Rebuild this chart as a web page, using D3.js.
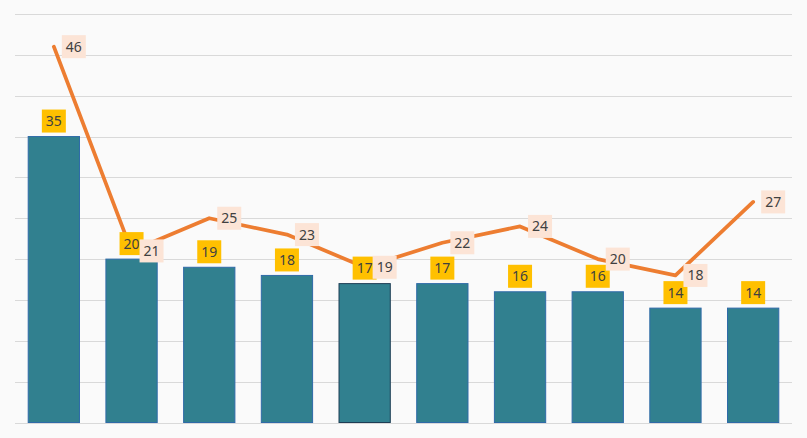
<!DOCTYPE html>
<html>
<head>
<meta charset="utf-8">
<script src="https://cdn.jsdelivr.net/npm/d3@7"></script>
<style>
  body { margin: 0; background: #fafafa; }
  svg { display: block; }
  text { font-family: "Noto Sans", "Open Sans", sans-serif; font-size: 14px; fill: #404040; }
</style>
</head>
<body>
<div id="chart"></div>
<script>
// data
const categories = ["1", "2", "3", "4", "5", "6", "7", "8", "9", "10"];
const barValues = [35, 20, 19, 18, 17, 17, 16, 16, 14, 14];
const lineValues = [46, 21, 25, 23, 19, 22, 24, 20, 18, 27];
const yTicks = [0, 5, 10, 15, 20, 25, 30, 35, 40, 45, 50];

const width = 807, height = 438,
    margin = { top: 14, right: 15, bottom: 15, left: 15 };

const rows = categories.map((c, i) => ({ cat: c, bar: barValues[i], line: lineValues[i], i }));

const svg = d3.select("#chart").append("svg")
    .attr("width", width)
    .attr("height", height);

svg.append("rect").attr("width", width).attr("height", height).attr("fill", "#fafafa");

const x = d3.scaleBand()
    .domain(categories)
    .range([margin.left, width - margin.right])
    .paddingInner(0.34)
    .paddingOuter(0.17);

const y = d3.scaleLinear()
    .domain([0, 50])
    .range([height - margin.bottom - 0.5, margin.top]);

const cx = d => x(d.cat) + x.bandwidth() / 2;

// gridlines
svg.append("g")
    .selectAll("line")
    .data(yTicks)
    .join("line")
    .attr("x1", margin.left)
    .attr("x2", width - margin.right)
    .attr("y1", d => Math.round(y(d)) + 0.5)
    .attr("y2", d => Math.round(y(d)) + 0.5)
    .attr("stroke", "#d9d9d9")
    .attr("stroke-width", 1);

// bars
svg.append("g")
    .selectAll("rect")
    .data(rows)
    .join("rect")
    .attr("x", d => x(d.cat))
    .attr("y", d => y(d.bar))
    .attr("width", x.bandwidth())
    .attr("height", d => y(0) - y(d.bar))
    .attr("fill", "#31808f")
    .attr("stroke", d => d.i === 4 ? "#1e3d55" : "#2f6aa8")
    .attr("stroke-width", 1);

// line
const line = d3.line()
    .x(cx)
    .y(d => y(d.line));

svg.append("path")
    .datum(rows)
    .attr("d", line)
    .attr("fill", "none")
    .attr("stroke", "#ed7d31")
    .attr("stroke-width", 3.75)
    .attr("stroke-linejoin", "round")
    .attr("stroke-linecap", "round");

// bar labels (yellow boxes)
const bw = 24, bh = 23;
const barLab = svg.append("g")
    .selectAll("g")
    .data(rows)
    .join("g")
    .attr("transform", d => `translate(${cx(d)}, ${y(d.bar) - 4 - bh / 2})`);
barLab.append("rect")
    .attr("x", -bw / 2).attr("y", -bh / 2)
    .attr("width", bw).attr("height", bh)
    .attr("fill", "#ffc000");
barLab.append("text")
    .attr("text-anchor", "middle")
    .attr("dy", "0.36em")
    .text(d => d.bar);

// line labels (peach boxes)
const lineLab = svg.append("g")
    .selectAll("g")
    .data(rows)
    .join("g")
    .attr("transform", d => `translate(${cx(d) + 8 + bw / 2}, ${y(d.line)})`);
lineLab.append("rect")
    .attr("x", -bw / 2).attr("y", -bh / 2)
    .attr("width", bw).attr("height", bh)
    .attr("fill", "#fce4d6");
lineLab.append("text")
    .attr("text-anchor", "middle")
    .attr("dy", "0.36em")
    .text(d => d.line);
</script>
</body>
</html>
